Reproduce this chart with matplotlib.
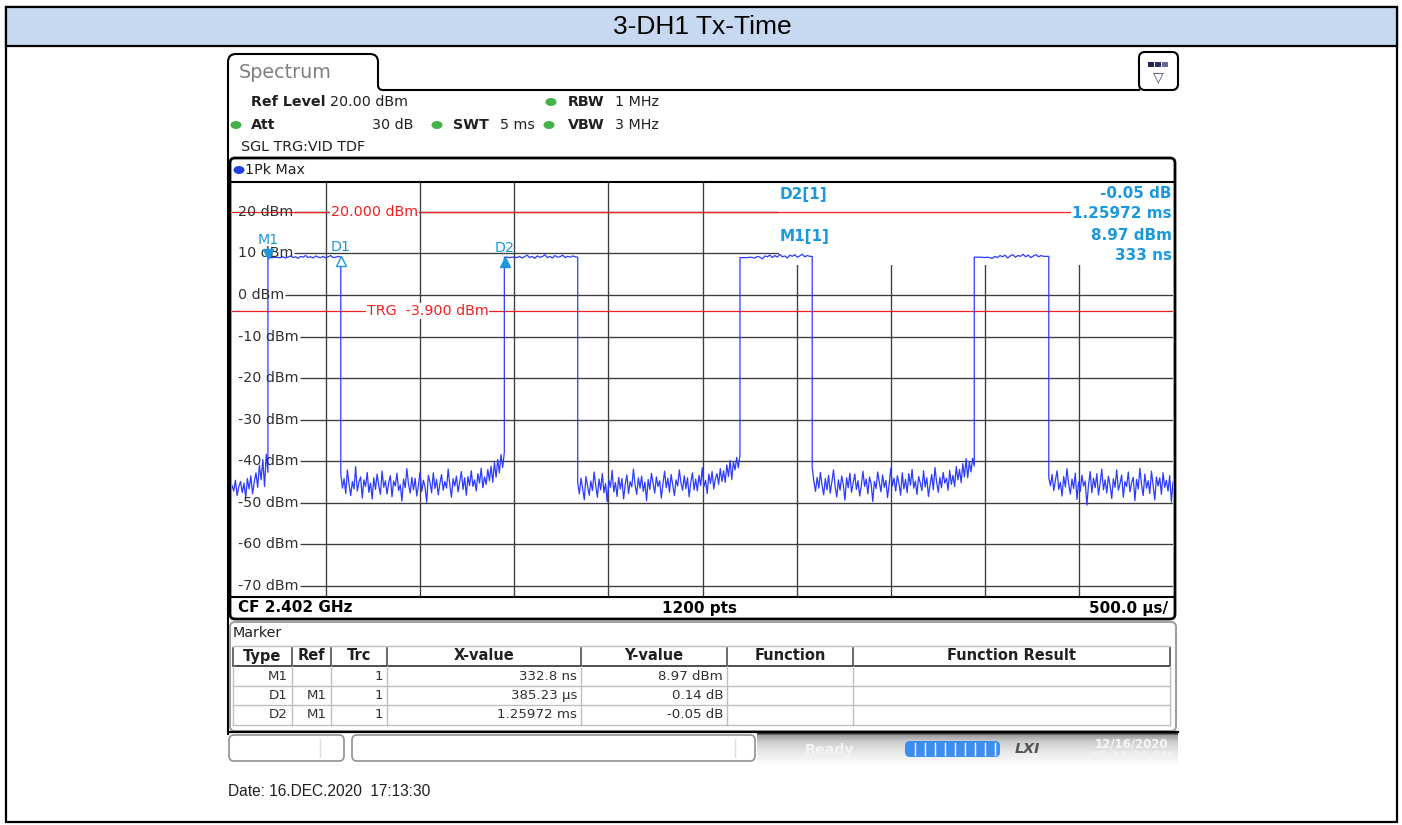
import numpy as np
import matplotlib

matplotlib.use("Agg")
import matplotlib.pyplot as plt
import matplotlib.transforms as mtransforms
from matplotlib.patches import Rectangle, FancyBboxPatch, PathPatch, Ellipse
from matplotlib.path import Path

W, H = 1402, 825

# ---------------------------------------------------------------------------
# Trace data (dBm)
# ---------------------------------------------------------------------------
SWEEP_MS = 5.0          # 10 div x 500 us
TRIG_MS = 0.191         # position of t = 0 (M1) from the left screen edge
EDGES_MS = [0.191, 0.578, 1.447, 1.837, 2.699, 3.083, 3.944, 4.340]

PRE_NOISE = [-45.8, -47.2, -44.6, -48.3, -46.1, -44.9, -47.6, -45.3, -48.8, -44.2,
             -46.7, -43.5, -47.9, -45.0, -42.8, -46.3, -41.0, -44.5, -39.6, -46.1,
             -38.3, -42.7]
BURST_1 = [9.0, 9.0, 9.0, 9.1, 9.0, 9.0, 9.2, 8.9, 9.1, 9.4, 9.0, 9.2, 8.8, 9.3, 9.1,
           9.5, 9.0, 9.2, 8.9, 9.4, 9.1, 9.0, 9.3, 8.9, 9.2, 9.5, 9.0, 9.1, 9.3, 9.1]
GAP_1 = [-43.0, -46.5, -44.2, -47.8, -42.1, -45.6, -48.3, -44.9, -46.7, -41.3,
         -47.2, -45.0, -43.8, -48.9, -44.5, -46.1, -42.7, -47.5, -45.3, -49.1,
         -44.0, -46.8, -43.1, -45.9, -48.0, -42.4, -46.3, -44.7, -47.9, -45.2,
         -43.5, -48.6, -44.8, -46.0, -42.9, -47.1, -45.7, -49.6, -44.3, -46.4,
         -41.8, -45.5, -47.7, -43.9, -46.9, -44.1, -48.4, -45.8, -42.6, -47.3,
         -44.6, -46.2, -49.9, -43.4, -45.1, -47.6, -42.8, -46.6, -44.4, -48.1,
         -45.4, -43.2, -47.0, -44.9, -46.5, -41.9, -45.7, -48.7, -44.2, -46.0,
         -43.6, -47.4, -45.0, -42.5, -46.8, -44.0, -48.2, -43.7, -45.9, -42.3,
         -46.1, -44.5, -47.2, -43.0, -45.3, -41.7, -46.4, -43.8, -45.6, -42.0,
         -44.7, -41.2, -45.1, -40.3, -43.9, -39.6, -42.8, -38.4, -41.5, -37.9]
BURST_2 = [9.1, 9.1, 9.0, 9.1, 9.1, 9.0, 9.3, 8.9, 9.2, 9.6, 9.0, 9.3, 8.8, 9.4, 9.1,
           9.2, 9.7, 9.0, 9.3, 8.9, 9.5, 9.1, 9.2, 9.6, 9.0, 9.3, 9.1, 9.4, 9.2, 9.1]
GAP_2 = [-45.2, -47.9, -44.1, -46.6, -49.3, -43.7, -46.0, -48.2, -44.8, -47.1,
         -42.6, -45.9, -48.7, -44.3, -46.9, -43.0, -47.6, -45.4, -49.8, -44.6,
         -46.3, -42.2, -47.4, -45.1, -48.5, -43.9, -46.7, -44.2, -49.1, -45.6,
         -43.3, -47.8, -44.9, -46.2, -41.9, -45.7, -48.0, -44.0, -46.5, -43.6,
         -47.3, -45.0, -49.5, -44.4, -46.8, -42.9, -45.3, -47.7, -43.8, -46.1,
         -44.7, -48.9, -45.5, -42.4, -46.4, -44.1, -47.5, -43.2, -45.8, -48.3,
         -44.5, -46.0, -42.1, -45.2, -47.0, -43.5, -46.6, -44.0, -48.6, -45.1,
         -42.8, -46.9, -44.3, -47.2, -43.4, -45.9, -41.6, -46.2, -44.6, -47.8,
         -43.1, -45.4, -42.5, -46.7, -44.2, -43.0, -45.6, -41.8, -44.9, -42.3,
         -45.1, -40.9, -43.7, -39.8, -44.4, -40.2, -42.1, -39.1, -41.6, -38.6]
BURST_3 = [9.0, 9.0, 9.0, 9.0, 9.1, 9.0, 8.9, 9.3, 9.1, 8.7, 9.4, 9.2, 9.6, 9.0, 9.5,
           9.1, 9.8, 9.2, 9.4, 8.9, 9.6, 9.3, 9.7, 9.1, 9.4, 9.8, 9.2, 9.5, 9.3, 9.3]
GAP_3 = [-41.6, -44.8, -47.3, -43.9, -46.5, -42.7, -45.8, -48.1, -44.2, -46.9,
         -43.4, -47.7, -45.0, -42.1, -46.2, -48.6, -44.5, -47.0, -43.6, -45.7,
         -49.4, -44.0, -46.4, -42.9, -47.5, -45.3, -43.1, -46.8, -44.7, -48.4,
         -45.9, -42.4, -46.1, -44.3, -47.9, -43.8, -45.5, -49.7, -44.9, -46.6,
         -42.6, -45.1, -47.4, -43.3, -46.3, -44.6, -48.8, -45.6, -41.7, -46.0,
         -44.1, -47.2, -43.5, -45.4, -48.2, -42.8, -46.7, -44.4, -47.6, -43.0,
         -45.8, -42.0, -46.5, -44.8, -48.0, -43.7, -45.2, -47.1, -42.3, -46.2,
         -44.0, -48.5, -45.7, -43.2, -46.9, -41.5, -45.0, -47.5, -43.9, -46.4,
         -42.7, -45.3, -44.1, -47.0, -42.2, -45.6, -43.4, -46.1, -41.3, -44.5,
         -42.0, -45.2, -40.6, -43.8, -39.4, -44.0, -40.1, -42.6, -39.3, -41.2]
BURST_4 = [9.1, 9.1, 9.1, 9.1, 9.0, 9.1, 9.0, 8.8, 9.3, 9.0, 9.5, 9.2, 9.6, 8.9, 9.4,
           9.7, 9.1, 9.5, 9.3, 9.8, 9.2, 9.6, 9.0, 9.4, 9.7, 9.2, 9.5, 9.3, 9.3, 9.3]
GAP_4 = [-44.0, -45.9, -43.2, -47.1, -44.6, -42.3, -46.8, -45.1, -48.4, -43.7,
         -46.2, -41.8, -45.5, -47.9, -44.3, -46.6, -42.9, -49.2, -45.0, -47.3,
         -43.4, -46.0, -44.8, -50.6, -45.7, -42.5, -47.6, -44.1, -46.4, -43.0,
         -48.1, -45.3, -41.9, -46.9, -44.5, -47.7, -43.6, -45.8, -49.0, -44.2,
         -46.3, -42.1, -47.0, -45.4, -43.3, -48.7, -44.9, -46.1, -42.6, -47.4,
         -45.2, -43.9, -49.5, -44.4, -46.7, -41.7, -45.6, -48.3, -43.1, -46.5,
         -44.7, -47.8, -42.4, -45.9, -49.3, -43.8, -46.0, -44.0, -48.0, -42.8,
         -46.3, -44.6, -47.2, -43.5, -49.8, -45.0]

SEGMENTS = [PRE_NOISE, BURST_1, GAP_1, BURST_2, GAP_2, BURST_3, GAP_3, BURST_4, GAP_4]

# grid / levels
LEVELS_DBM = [20, 10, 0, -10, -20, -30, -40, -50, -60, -70]
YLIM = (-72.7, 27.2)
DISPLAY_LINE = 20.0
TRIGGER_LEVEL = -3.9

# markers (M1 absolute from trigger, D1/D2 relative to M1)
M1_TIME_MS = 0.0003328
M1_LEVEL = 8.97
DELTA_NAMES = ["D1", "D2"]
DELTA_TIME_MS = [0.38523, 1.25972]
DELTA_DB = [0.14, -0.05]

# marker table
TBL_HEAD = ["Type", "Ref", "Trc", "X-value", "Y-value", "Function", "Function Result"]
TBL_TYPE = ["M1", "D1", "D2"]
TBL_REF = ["", "M1", "M1"]
TBL_TRC = ["1", "1", "1"]
TBL_X = ["332.8 ns", "385.23 µs", "1.25972 ms"]
TBL_Y = ["8.97 dBm", "0.14 dB", "-0.05 dB"]

# colours
BLUE_TRACE = "#2b3bff"
MK_BLUE = "#1c98dc"
RED = "#f02020"
GRID = "#3c3c3c"
GREEN = "#46b04a"

FS = 10.3  # analyzer UI font size

# ---------------------------------------------------------------------------
fig = plt.figure(figsize=(W / 100, H / 100), dpi=100)
bg = fig.add_axes([0, 0, 1, 1], zorder=0)
bg.set_axis_off()
T = bg.transData  # pixel coordinates (y down)

UI = "DejaVu Sans"
ARIAL = "Liberation Sans"

# outer frame + title bar
bg.add_patch(Rectangle((6, 7), 1391, 815, fc="white", ec="black", lw=1.6))
bg.add_patch(Rectangle((6, 7), 1391, 39, fc="#c6d9f0", ec="black", lw=1.6))
bg.text(702, 27, "3-DH1 Tx-Time", ha="center", va="center", fontsize=19,
        family=ARIAL)

# spectrum tab outline
tab = Path([(228, 735), (228, 62), (228, 54), (236, 54), (370, 54), (378, 54),
            (378, 62), (378, 85), (378, 90), (383, 90), (1140, 90)],
           [Path.MOVETO, Path.LINETO, Path.CURVE3, Path.CURVE3, Path.LINETO,
            Path.CURVE3, Path.CURVE3, Path.LINETO, Path.CURVE3, Path.CURVE3,
            Path.LINETO])
bg.add_patch(PathPatch(tab, fc="none", ec="black", lw=1.5))
bg.text(239, 73, "Spectrum", ha="left", va="center", fontsize=13.8,
        color="#808080", family=UI)

# icon at top right
bg.add_patch(FancyBboxPatch((1139, 52), 39, 38, boxstyle="round,pad=0,rounding_size=6",
                            fc="white", ec="black", lw=1.5))
for i, c in enumerate(["#23235a", "#2e2e6a", "#6a6a90"]):
    bg.add_patch(Rectangle((1148 + i * 7, 62), 6, 5, fc=c, ec="none"))
bg.text(1158, 77, "\u25bd", ha="center", va="center", fontsize=10, color="#40406a")

# header info
def hdr(x, y, s, bold=False, ha="left"):
    bg.text(x, y, s, ha=ha, va="center", fontsize=FS, family=UI,
            fontweight="bold" if bold else "normal", color="#202020")

def dot(x, y, c=GREEN):
    bg.add_patch(Ellipse((x, y), 11, 8, fc=c, ec="none"))

hdr(251, 102, "Ref Level", bold=True)
hdr(330, 102, "20.00 dBm")
dot(551, 102)
hdr(568, 102, "RBW", bold=True)
hdr(615, 102, "1 MHz")
dot(236, 125)
hdr(251, 125, "Att", bold=True)
hdr(413, 125, "30 dB", ha="right")
dot(437, 125)
hdr(453, 125, "SWT", bold=True)
hdr(500, 125, "5 ms")
dot(549, 125)
hdr(568, 125, "VBW", bold=True)
hdr(615, 125, "3 MHz")
hdr(241, 147, "SGL TRG:VID TDF")

# trace window frame
bg.add_patch(FancyBboxPatch((230, 158), 945, 461, boxstyle="round,pad=0,rounding_size=5",
                            fc="white", ec="black", lw=2))
dot(239, 170, c="#2040e0")
hdr(245, 170, "1Pk Max")
bg.text(238, 608, "CF 2.402 GHz", ha="left", va="center", fontsize=11,
        fontweight="bold", family=UI)
bg.text(700, 608, "1200 pts", ha="center", va="center", fontsize=11,
        fontweight="bold", family=UI)
bg.text(1168, 608, "500.0 µs/", ha="right", va="center", fontsize=11,
        fontweight="bold", family=UI)

# ---------------------------------------------------------------------------
# trace axes
# ---------------------------------------------------------------------------
L, R, TOP, BOT = 232, 1173, 182, 597
ax = fig.add_axes([L / W, 1 - BOT / H, (R - L) / W, (BOT - TOP) / H], zorder=1)
ax.set_xlim(0, SWEEP_MS)
ax.set_ylim(*YLIM)
ax.set_xticks([])
ax.set_yticks([])
for side in ("left", "right"):
    ax.spines[side].set_visible(False)
for side in ("top", "bottom"):
    ax.spines[side].set_linewidth(1.5)

# vertical grid
for x in np.arange(0.5, SWEEP_MS, 0.5):
    ax.axvline(x, color=GRID, lw=0.95, zorder=1)

# level labels and horizontal grid lines starting after the label
ylab_tr = ax.get_yaxis_transform()
renderer = fig.canvas.get_renderer()
inv = ax.transData.inverted()
for lev in LEVELS_DBM:
    t = ax.text(6 / (R - L), lev, f"{lev} dBm", transform=ylab_tr, ha="left",
                va="center", fontsize=FS, color="#303030", family=UI, zorder=4)
    bb = t.get_window_extent(renderer)
    x0 = inv.transform((bb.x1 + 1, 0))[0]
    ax.hlines(lev, x0, SWEEP_MS, color=GRID, lw=0.95, zorder=1)

# white area behind marker readout hides the grid
ax.add_patch(Rectangle((779, TOP), R - 779, 265 - TOP, transform=T, fc="white",
                       ec="none", zorder=1.5))

# display line / trigger line
ax.axhline(DISPLAY_LINE, color=RED, lw=0.9, zorder=2.6)
ax.axhline(TRIGGER_LEVEL, color=RED, lw=0.9, zorder=2.6)
mix = mtransforms.blended_transform_factory(T, ax.transData)
ax.text(331, DISPLAY_LINE, f"{DISPLAY_LINE:.3f} dBm", transform=mix, ha="left",
        va="center", fontsize=FS, color=RED, family=UI, zorder=5,
        bbox=dict(fc="white", ec="none", pad=0.5))
ax.text(367, TRIGGER_LEVEL, f"TRG  {TRIGGER_LEVEL:.3f} dBm", transform=mix,
        ha="left", va="center", fontsize=FS, color=RED, family=UI, zorder=5,
        bbox=dict(fc="white", ec="none", pad=0.5))

# trace
bounds = [0.0] + EDGES_MS + [SWEEP_MS]
tt, yy = [], []
for i, seg in enumerate(SEGMENTS):
    tt.append(np.linspace(bounds[i], bounds[i + 1], len(seg)))
    yy.append(np.asarray(seg, dtype=float))
ax.plot(np.concatenate(tt), np.concatenate(yy), color=BLUE_TRACE, lw=0.9, zorder=3)

# markers
m1_x = TRIG_MS + M1_TIME_MS
up = mtransforms.offset_copy(ax.transData, fig, x=0, y=4, units="dots")
dn = mtransforms.offset_copy(ax.transData, fig, x=0, y=-4, units="dots")
ax.plot([m1_x], [M1_LEVEL], marker="v", ms=6.5, color=MK_BLUE, transform=up,
        zorder=4, ls="none")
ax.annotate("M1", (m1_x, M1_LEVEL), xytext=(0, 13), textcoords="offset points",
            ha="center", va="center", fontsize=FS, color=MK_BLUE, family=UI, zorder=4)
for name, dt, ddb in zip(DELTA_NAMES, DELTA_TIME_MS, DELTA_DB):
    x = m1_x + dt
    lvl = M1_LEVEL + ddb
    face = "white" if name == "D1" else MK_BLUE
    ax.plot([x], [lvl], marker="^", ms=6.5, mfc=face, mec=MK_BLUE, mew=1.0,
            transform=dn, zorder=4, ls="none")
    ax.annotate(name, (x, lvl), xytext=(0, 7.5), textcoords="offset points",
                ha="center", va="center", fontsize=FS, color=MK_BLUE, family=UI,
                zorder=4)

# marker readout
def rd(x, y, s, ha="left", box=False):
    ax.text(x, y, s, transform=T, ha=ha, va="center", fontsize=11, fontweight="bold",
            color=MK_BLUE, family=UI, zorder=5,
            bbox=dict(fc="white", ec="none", pad=0.8) if box else None)

rd(780, 194, "D2[1]")
rd(1172, 194, f"{DELTA_DB[1]:.2f} dB", ha="right")
rd(1172, 213, TBL_X[2], ha="right", box=True)
rd(780, 236, "M1[1]")
rd(1172, 236, f"{M1_LEVEL:.2f} dBm", ha="right")
rd(1172, 256, f"{M1_TIME_MS * 1e6:.0f} ns", ha="right")

# ---------------------------------------------------------------------------
# marker table
# ---------------------------------------------------------------------------
bg.add_patch(FancyBboxPatch((230, 622), 946, 109, boxstyle="round,pad=0,rounding_size=5",
                            fc="white", ec="#a0a0a0", lw=1.5))
bg.text(233, 633, "Marker", ha="left", va="center", fontsize=FS, family=UI,
        color="#202020")
cols = [233, 292, 331, 387, 581, 727, 853, 1170]
rows = [646, 666, 686, 705, 725]
bg.plot([cols[0], cols[-1]], [rows[0], rows[0]], color="#c0c0c0", lw=1)
bg.plot([cols[0], cols[-1]], [rows[1], rows[1]], color="#404040", lw=1.3)
for r in rows[2:]:
    bg.plot([cols[0], cols[-1]], [r, r], color="#c0c0c0", lw=1)
for c in cols:
    bg.plot([c, c], [rows[0] + 2, rows[1]], color="#404040", lw=1.1)
    bg.plot([c, c], [rows[1], rows[-1]], color="#c0c0c0", lw=1)
for i, h in enumerate(TBL_HEAD):
    bg.text((cols[i] + cols[i + 1]) / 2, 656, h, ha="center", va="center",
            fontsize=10.5, fontweight="bold", family=UI, color="#202020")
cell_cols = [TBL_TYPE, TBL_REF, TBL_TRC, TBL_X, TBL_Y]
for j, colvals in enumerate(cell_cols):
    for i, v in enumerate(colvals):
        bg.text(cols[j + 1] - 4, (rows[i + 1] + rows[i + 2]) / 2, v, ha="right",
                va="center", fontsize=9.6, family=UI, color="#303030")

# ---------------------------------------------------------------------------
# status bar
# ---------------------------------------------------------------------------
bg.add_patch(FancyBboxPatch((229, 735), 115, 26, boxstyle="round,pad=0,rounding_size=5",
                            fc="white", ec="#909090", lw=1.2))
bg.plot([320, 320], [739, 757], color="#e0e0e0", lw=1)
bg.add_patch(FancyBboxPatch((352, 735), 403, 26, boxstyle="round,pad=0,rounding_size=5",
                            fc="white", ec="#909090", lw=1.2))
bg.plot([735, 735], [739, 757], color="#e0e0e0", lw=1)
grad = np.interp(np.arange(34), [0, 2, 8, 20, 33], [0.2, 0.62, 0.8, 0.92, 1.0])
bg.imshow(np.repeat(grad[:, None], 2, axis=1), extent=[757, 1178, 767, 733],
          aspect="auto", cmap="gray", vmin=0, vmax=1, zorder=2,
          interpolation="bilinear")
bg.plot([229, 1178], [732, 732], color="black", lw=1.6, zorder=3)
bg.text(830, 750, "Ready", ha="center", va="center", fontsize=FS, fontweight="bold",
        color="#f4f4f4", family=UI, zorder=4)
bg.add_patch(FancyBboxPatch((905, 741), 95, 16, boxstyle="round,pad=0,rounding_size=5",
                            fc="#3c8ef0", ec="none", zorder=3))
for x in np.arange(915, 1000, 10):
    bg.plot([x, x], [743, 755], color="white", lw=1, zorder=4)
bg.text(1027, 749, "LXI", ha="center", va="center", fontsize=FS, fontweight="bold",
        style="italic", color="#555555", family=UI, zorder=4)
bg.text(1132, 744, "12/16/2020", ha="center", va="center", fontsize=8.5,
        fontweight="bold", color="#f6f6f6", family=UI, zorder=4)
bg.text(1132, 757, "05:13:30 PM", ha="center", va="center", fontsize=8.5,
        fontweight="bold", color="#f2f2f2", family=UI, zorder=4)

bg.text(228, 792, "Date: 16.DEC.2020  17:13:30", ha="left", va="center",
        fontsize=11.2, family=ARIAL, color="#202020")

bg.set_xlim(0, W)
bg.set_ylim(H, 0)

fig.savefig("out.png", dpi=100)
